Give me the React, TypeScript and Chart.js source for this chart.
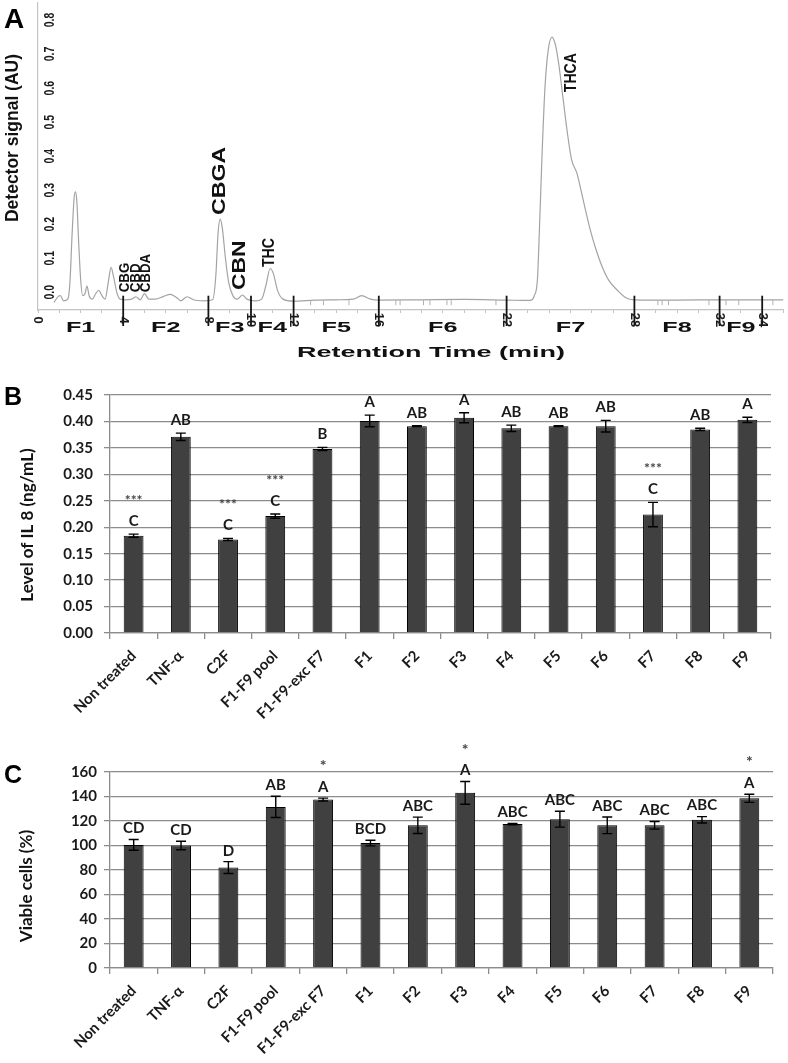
import React, { useEffect, useRef } from 'react';
import { Chart, registerables } from 'chart.js';
Chart.register(...registerables);

// ---------- Panel A data (chromatogram) ----------
const chromTime = [0.75, 0.95, 1.05, 1.2, 1.4, 1.5, 1.6, 1.7, 1.76, 1.82, 1.9, 2.0, 2.1, 2.2, 2.3, 2.4, 2.55, 2.7, 2.85, 3.0, 3.15, 3.3, 3.43, 3.55, 3.7, 3.85, 4.1, 4.4, 4.6, 4.8, 5.0, 5.2, 5.5, 5.9, 6.2, 6.5, 6.7, 7.0, 7.3, 7.8, 8.2, 8.35, 8.45, 8.55, 8.65, 8.8, 8.95, 9.15, 9.35, 9.6, 9.8, 10.2, 10.5, 10.7, 10.9, 11.05, 11.25, 11.5, 12, 13, 14, 14.8, 15.2, 15.6, 16, 18, 20, 22, 23.1, 23.3, 23.45, 23.55, 23.65, 23.8, 23.95, 24.13, 24.3, 24.45, 24.65, 24.85, 25.05, 25.3, 25.6, 25.9, 26.2, 26.5, 26.8, 27.2, 27.6, 28, 30, 32, 35];
const chromSignal = [-0.03, -0.012, -0.01, -0.025, -0.02, 0.03, 0.17, 0.28, 0.295, 0.27, 0.16, 0.04, -0.01, -0.005, 0.018, -0.01, -0.02, -0.005, 0.006, -0.01, -0.02, 0.03, 0.073, 0.045, 0.0, -0.02, -0.022, -0.02, -0.013, -0.022, -0.004, -0.02, -0.02, -0.012, -0.006, -0.015, -0.025, -0.013, -0.022, -0.025, -0.022, 0.05, 0.17, 0.215, 0.19, 0.1, 0.03, -0.01, -0.02, -0.008, -0.02, -0.025, -0.02, 0.02, 0.07, 0.055, 0.005, -0.02, -0.026, -0.023, -0.022, -0.02, -0.01, -0.02, -0.023, -0.022, -0.021, -0.023, -0.024, -0.01, 0.04, 0.2, 0.38, 0.6, 0.71, 0.75, 0.725, 0.67, 0.57, 0.47, 0.39, 0.35, 0.27, 0.19, 0.125, 0.073, 0.035, 0.006, -0.016, -0.022, -0.023, -0.022, -0.022];
const axisTickMinutes = [0, 4, 8, 10, 12, 16, 22, 28, 32, 34];
const fractionBounds = [0, 4, 8, 10, 12, 16, 22, 28, 32, 34];
const fractionNames = ['F1', 'F2', 'F3', 'F4', 'F5', 'F6', 'F7', 'F8', 'F9'];
const eventMarks = [12.8, 13.4, 14.6, 16.8, 17.0, 18.1, 18.4, 19.2, 19.4, 21.5, 29.1, 29.3, 29.6, 31.5, 32.3, 32.9, 34.5];
const detectorTicks = [0, 0.1, 0.2, 0.3, 0.4, 0.5, 0.6, 0.7, 0.8];
const peakNames = ['CBG', 'CBD', 'CBDA', 'CBGA', 'CBN', 'THC', 'THCA'];
const peakTimes = [4.11, 4.6, 5.1, 8.54, 9.48, 10.88, 25.05];
const peakLabelLevels = [0.0, 0.0, 0.0, 0.227, 0.007, 0.074, 0.588];

// ---------- Panels B & C data ----------
const categories = ['Non treated', 'TNF-α', 'C2F', 'F1-F9 pool', 'F1-F9-exc F7', 'F1', 'F2', 'F3', 'F4', 'F5', 'F6', 'F7', 'F8', 'F9'];
const il8Values = [0.184, 0.371, 0.177, 0.221, 0.348, 0.401, 0.391, 0.407, 0.387, 0.391, 0.391, 0.224, 0.385, 0.403];
const il8Errors = [0.003, 0.007, 0.002, 0.004, 0.003, 0.011, 0.001, 0.0095, 0.006, 0.001, 0.011, 0.023, 0.002, 0.005];
const il8Letters = ['C', 'AB', 'C', 'C', 'B', 'A', 'AB', 'A', 'AB', 'AB', 'AB', 'C', 'AB', 'A'];
const il8Stars = ['***', '', '***', '***', '', '', '', '', '', '', '', '***', '', ''];
const viableValues = [100.5, 100, 82, 131.5, 137.5, 102, 116.5, 143, 117.5, 121.5, 116.5, 116.5, 121, 138.5];
const viableErrors = [4.4, 3.5, 4.8, 8.7, 1.2, 2.3, 6.7, 9.3, 0.5, 6.5, 6.8, 3.1, 2.6, 3.3];
const viableLetters = ['CD', 'CD', 'D', 'AB', 'A', 'BCD', 'ABC', 'A', 'ABC', 'ABC', 'ABC', 'ABC', 'ABC', 'A'];
const viableStars = ['', '', '', '', '*', '', '', '*', '', '', '', '', '', '*'];

const SANS = '"Liberation Sans", Arial, sans-serif';
const CAL = 'Lato, "Open Sans", sans-serif';

function rotText(ctx: CanvasRenderingContext2D, text: string, x: number, y: number, angle: number, font: string, color: string, sx = 1, align: CanvasTextAlign = 'center', baseline: CanvasTextBaseline = 'middle') {
  ctx.save();
  ctx.translate(x, y);
  ctx.rotate(angle);
  ctx.scale(sx, 1);
  ctx.font = font;
  ctx.fillStyle = color;
  ctx.textAlign = align;
  ctx.textBaseline = baseline;
  ctx.fillText(text, 0, 0);
  ctx.restore();
}

const peakStyles = [
  { size: 14, s: 0.95 }, { size: 14, s: 0.95 }, { size: 14, s: 0.95 },
  { size: 19, s: 1.22 }, { size: 19, s: 1.2 }, { size: 16, s: 0.88 }, { size: 16, s: 0.88 },
];

function makeChromChart(canvas: HTMLCanvasElement) {
  const plugin = {
    id: 'chromDecor',
    afterDraw(chart: any) {
      const ctx: CanvasRenderingContext2D = chart.ctx;
      const xs = chart.scales.x;
      const ys = chart.scales.y;
      ctx.save();
      ctx.strokeStyle = '#b0b0b0';
      ctx.lineWidth = 1;
      const by = ys.getPixelForValue(-0.023);
      eventMarks.forEach((m) => {
        const px = xs.getPixelForValue(m);
        ctx.beginPath(); ctx.moveTo(px, by); ctx.lineTo(px, by + 5); ctx.stroke();
      });
      ctx.restore();
      ctx.save();
      ctx.strokeStyle = '#151515';
      ctx.lineWidth = 1.8;
      fractionBounds.slice(1).forEach((b) => {
        const px = xs.getPixelForValue(b);
        ctx.beginPath(); ctx.moveTo(px, ys.getPixelForValue(-0.01)); ctx.lineTo(px, 326); ctx.stroke();
      });
      ctx.restore();
      detectorTicks.forEach((v) => {
        rotText(ctx, v.toFixed(1), 50, ys.getPixelForValue(v), -Math.PI / 2, `bold 14px ${SANS}`, '#1a1a1a', 0.75);
      });
      axisTickMinutes.forEach((m) => {
        rotText(ctx, String(m), xs.getPixelForValue(m), 320, Math.PI / 2, `bold 13px ${SANS}`, '#1a1a1a', 1);
      });
      fractionNames.forEach((n, i) => {
        const mid = (fractionBounds[i] + fractionBounds[i + 1]) / 2;
        rotText(ctx, n, xs.getPixelForValue(mid), 328, 0, `bold 14px ${SANS}`, '#111', 1.8);
      });
      peakNames.forEach((n, i) => {
        const st = peakStyles[i];
        rotText(ctx, n, xs.getPixelForValue(peakTimes[i]), ys.getPixelForValue(peakLabelLevels[i]), -Math.PI / 2, `bold ${st.size}px ${SANS}`, '#111', st.s, 'left', 'middle');
      });
      rotText(ctx, 'Retention Time (min)', 431, 353, 0, `bold 15px ${SANS}`, '#111', 1.8);
      rotText(ctx, 'Detector signal (AU)', 13, 138, -Math.PI / 2, `bold 19px ${SANS}`, '#111', 0.92);
      ctx.save();
      ctx.font = `bold 28px ${SANS}`;
      ctx.fillStyle = '#000';
      ctx.textAlign = 'left';
      ctx.textBaseline = 'alphabetic';
      ctx.fillText('A', 4, 28);
      ctx.restore();
    },
  };
  return new Chart(canvas, {
    type: 'line',
    data: {
      datasets: [{
        data: chromTime.map((t, i) => ({ x: t, y: chromSignal[i] })),
        borderColor: '#a3a3a3',
        borderWidth: 1.2,
        pointRadius: 0,
        cubicInterpolationMode: 'monotone',
        fill: false,
      }],
    },
    options: {
      responsive: false,
      animation: false,
      layout: { padding: { top: 3, right: 4.5, left: 0, bottom: 0 } },
      plugins: { legend: { display: false }, tooltip: { enabled: false } },
      scales: {
        x: {
          type: 'linear', min: 0, max: 35,
          ticks: { display: false, stepSize: 1 },
          grid: { drawOnChartArea: false, drawTicks: true, tickLength: 3, color: '#c4c4c4' },
          border: { color: '#c4c4c4', width: 1.2 },
          afterFit: (s: any) => { s.height = 60; },
        },
        y: {
          type: 'linear', min: -0.052, max: 0.85,
          ticks: { display: false },
          grid: { display: false },
          border: { color: '#c4c4c4', width: 1.2 },
          afterFit: (s: any) => { s.width = 38; },
        },
      },
    } as any,
    plugins: [plugin],
  });
}

interface BarSpec {
  values: number[]; errors: number[]; letters: string[]; stars: string[];
  max: number; step: number; decimals: number; height: number; top: number; bottom: number; right: number;
  tickPad: number; title: string; titleX: number; titleY: number; panel: string; panelY: number; letterGap: number; starFont: string;
}

function makeBarChart(canvas: HTMLCanvasElement, sp: BarSpec) {
  const plugin = {
    id: 'barDecor',
    afterDatasetsDraw(chart: any) {
      const ctx: CanvasRenderingContext2D = chart.ctx;
      const ys = chart.scales.y;
      const meta = chart.getDatasetMeta(0);
      ctx.save();
      ctx.strokeStyle = '#000';
      ctx.lineWidth = 1.4;
      sp.values.forEach((v, i) => {
        const px = meta.data[i].x;
        const yt = ys.getPixelForValue(v + sp.errors[i]);
        const yb = ys.getPixelForValue(v - sp.errors[i]);
        ctx.beginPath();
        ctx.moveTo(px, yt); ctx.lineTo(px, yb);
        ctx.moveTo(px - 5, yt); ctx.lineTo(px + 5, yt);
        ctx.moveTo(px - 5, yb); ctx.lineTo(px + 5, yb);
        ctx.stroke();
        const ly = yt - sp.letterGap;
        rotText(ctx, sp.letters[i], px, ly, 0, `bold 15px ${CAL}`, '#1a1a1a', 1);
        if (sp.stars[i]) rotText(ctx, sp.stars[i], px, ly - 21, 0, sp.starFont, '#444', 1);
      });
      ctx.restore();
    },
    afterDraw(chart: any) {
      const ctx: CanvasRenderingContext2D = chart.ctx;
      rotText(ctx, sp.title, sp.titleX, sp.titleY, -Math.PI / 2, `bold 17px ${CAL}`, '#111', 1);
      ctx.save();
      ctx.font = `bold 25px ${SANS}`;
      ctx.fillStyle = '#000';
      ctx.textAlign = 'left';
      ctx.textBaseline = 'alphabetic';
      ctx.fillText(sp.panel, 4, sp.panelY);
      ctx.restore();
    },
  };
  return new Chart(canvas, {
    type: 'bar',
    data: {
      labels: categories,
      datasets: [{
        data: sp.values,
        backgroundColor: '#404040',
        borderColor: '#000',
        borderWidth: 1,
        barPercentage: 0.42,
        categoryPercentage: 1,
      }],
    },
    options: {
      responsive: false,
      animation: false,
      layout: { padding: { top: sp.top, right: sp.right, left: 0, bottom: 0 } },
      plugins: { legend: { display: false }, tooltip: { enabled: false } },
      scales: {
        x: {
          ticks: { minRotation: 45, maxRotation: 45, autoSkip: false, padding: 8, color: '#1a1a1a', font: { family: CAL, size: 15, weight: 'bold' } },
          grid: { drawOnChartArea: false, drawTicks: true, tickLength: 6, color: '#8c8c8c', lineWidth: 1.3 },
          border: { color: '#8c8c8c', width: 1.3 },
          afterFit: (s: any) => { s.height = sp.height - sp.bottom; },
        },
        y: {
          min: 0, max: sp.max,
          ticks: { stepSize: sp.step, padding: sp.tickPad, color: '#1a1a1a', font: { family: CAL, size: 15, weight: 'bold' }, callback: (v: any) => Number(v).toFixed(sp.decimals) },
          grid: { color: '#8c8c8c', lineWidth: 1.3, tickLength: 6 },
          border: { color: '#8c8c8c', width: 1.3 },
          afterFit: (s: any) => { s.width = 110; },
        },
      },
    } as any,
    plugins: [plugin],
  });
}

function Panel({ top, height, make }: { top: number; height: number; make: (c: HTMLCanvasElement) => Chart }) {
  const ref = useRef<HTMLCanvasElement>(null);
  useEffect(() => {
    if (!ref.current) return;
    const ch = make(ref.current);
    return () => ch.destroy();
  }, []);
  return <canvas ref={ref} width={788} height={height} style={{ position: 'absolute', left: 0, top, width: 788, height }} />;
}

export default function App() {
  return (
    <div style={{ position: 'absolute', left: 0, top: 0, width: 788, height: 1063, background: '#fff', overflow: 'hidden' }}>
      <Panel top={0} height={370} make={(c) => makeChromChart(c)} />
      <Panel top={370} height={365} make={(c) => makeBarChart(c, {
        values: il8Values, errors: il8Errors, letters: il8Letters, stars: il8Stars,
        max: 0.45, step: 0.05, decimals: 2, height: 365, top: 25, bottom: 263, right: 17, tickPad: 11,
        title: 'Level of IL 8 (ng/mL)', titleX: 28, titleY: 155, panel: 'B', panelY: 35, letterGap: 13, starFont: `bold 14px ${CAL}`,
      })} />
      <Panel top={735} height={328} make={(c) => makeBarChart(c, {
        values: viableValues, errors: viableErrors, letters: viableLetters, stars: viableStars,
        max: 160, step: 20, decimals: 0, height: 328, top: 37, bottom: 233, right: 15, tickPad: 7,
        title: 'Viable cells (%)', titleX: 27, titleY: 151, panel: 'C', panelY: 48, letterGap: 11, starFont: `bold 16px ${CAL}`,
      })} />
    </div>
  );
}
